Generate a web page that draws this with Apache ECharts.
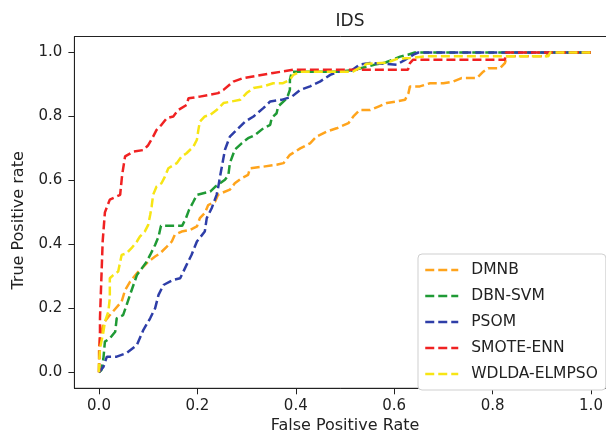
<!DOCTYPE html>
<html>
<head>
<meta charset="utf-8">
<script src="https://cdn.jsdelivr.net/npm/echarts@6/dist/echarts.min.js"></script>
<style>
html,body{margin:0;padding:0;background:#fff;}
#chart{width:606px;height:438px;}
</style>
</head>
<body>
<div id="chart"></div>
<script>
// ---- data ----
const titleText = "IDS";
const xName = "False Positive Rate";
const yName = "True Positive rate";
const tickValues = [0, 0.2, 0.4, 0.6, 0.8, 1.0];
const seriesNames = ["DMNB", "DBN-SVM", "PSOM", "SMOTE-ENN", "WDLDA-ELMPSO"];

const dmnbFpr = [0,0,0,0.002,0.009,0.022,0.046,0.053,0.063,0.077,0.087,0.1,0.114,0.124,0.138,0.148,0.154,0.168,0.185,0.199,0.205,0.215,0.222,0.236,0.242,0.25,0.266,0.276,0.29,0.303,0.307,0.334,0.361,0.375,0.388,0.409,0.429,0.442,0.463,0.483,0.507,0.517,0.53,0.551,0.568,0.585,0.605,0.622,0.629,0.632,0.652,0.673,0.70,0.72,0.737,0.768,0.781,0.791,0.815,0.825,0.829,0.909,0.913,1.0];
const dmnbTpr = [0,0.04,0.075,0.106,0.153,0.179,0.221,0.257,0.283,0.31,0.325,0.346,0.362,0.372,0.393,0.409,0.43,0.44,0.445,0.456,0.482,0.498,0.523,0.534,0.555,0.561,0.571,0.591,0.607,0.617,0.638,0.643,0.649,0.654,0.68,0.70,0.716,0.737,0.753,0.763,0.779,0.80,0.82,0.82,0.831,0.842,0.847,0.852,0.873,0.894,0.894,0.904,0.904,0.909,0.92,0.92,0.94,0.951,0.951,0.967,0.988,0.988,1.0,1.0];

const dbnFpr = [0,0.005,0.009,0.012,0.022,0.033,0.036,0.049,0.056,0.063,0.07,0.077,0.087,0.097,0.104,0.114,0.121,0.126,0.169,0.177,0.183,0.192,0.199,0.212,0.226,0.236,0.256,0.263,0.266,0.276,0.29,0.303,0.317,0.334,0.348,0.351,0.361,0.364,0.382,0.388,0.388,0.392,0.49,0.52,0.561,0.581,0.612,0.628,0.642,1.0];
const dbnTpr = [0,0.007,0.044,0.096,0.106,0.127,0.169,0.179,0.21,0.242,0.273,0.304,0.325,0.346,0.367,0.398,0.424,0.458,0.458,0.483,0.508,0.534,0.555,0.56,0.565,0.58,0.602,0.617,0.654,0.696,0.716,0.732,0.742,0.763,0.774,0.795,0.81,0.831,0.857,0.883,0.915,0.94,0.94,0.946,0.962,0.968,0.987,0.993,1.0,1.0];

const psomFpr = [0,0.009,0.016,0.036,0.056,0.077,0.09,0.104,0.114,0.121,0.131,0.151,0.165,0.178,0.188,0.199,0.215,0.219,0.229,0.239,0.242,0.246,0.256,0.266,0.28,0.297,0.314,0.334,0.348,0.371,0.392,0.409,0.429,0.449,0.47,0.486,0.51,0.53,0.551,0.605,0.622,0.639,0.649,1.0];
const psomTpr = [0,0.017,0.049,0.049,0.06,0.085,0.132,0.169,0.2,0.242,0.273,0.289,0.294,0.336,0.367,0.409,0.44,0.482,0.513,0.555,0.576,0.612,0.696,0.737,0.758,0.784,0.80,0.826,0.847,0.852,0.862,0.883,0.894,0.909,0.93,0.94,0.94,0.962,0.967,0.962,0.977,0.993,1.0,1.0];

const smoteFpr = [0,0.002,0.002,0.0075,0.012,0.022,0.043,0.047,0.053,0.07,0.09,0.10,0.11,0.117,0.127,0.138,0.151,0.161,0.178,0.182,0.205,0.226,0.242,0.253,0.273,0.293,0.354,0.395,0.628,0.632,0.638,0.825,0.827,1.0];
const smoteTpr = [0,0.13,0.17,0.41,0.50,0.54,0.555,0.617,0.675,0.69,0.695,0.71,0.737,0.758,0.774,0.795,0.80,0.82,0.836,0.857,0.862,0.868,0.873,0.883,0.909,0.92,0.936,0.946,0.946,0.967,0.977,0.977,1.0,1.0];

const wdldaFpr = [0,0,0.002,0.009,0.012,0.019,0.022,0.022,0.029,0.039,0.046,0.056,0.066,0.077,0.083,0.093,0.10,0.104,0.107,0.11,0.117,0.127,0.134,0.141,0.158,0.168,0.178,0.192,0.199,0.202,0.205,0.215,0.226,0.239,0.253,0.27,0.287,0.30,0.314,0.334,0.354,0.374,0.388,0.395,0.409,0.516,0.545,0.585,0.606,0.632,0.663,0.913,0.917,1.0];
const wdldaTpr = [0,0.023,0.075,0.127,0.158,0.19,0.232,0.294,0.304,0.315,0.367,0.372,0.388,0.409,0.424,0.44,0.461,0.492,0.518,0.555,0.581,0.591,0.612,0.638,0.654,0.675,0.685,0.706,0.727,0.758,0.784,0.80,0.805,0.82,0.842,0.847,0.852,0.873,0.889,0.894,0.904,0.904,0.915,0.93,0.94,0.94,0.965,0.968,0.98,0.983,0.988,0.988,1.0,1.0];

const colors = ["#ffa41c", "#1f9a35", "#2e3ea8", "#f02222", "#f7e514"];

// ---- build ----
function zip(a, b) { return a.map((v, i) => [v, b[i]]); }
const allX = [dmnbFpr, dbnFpr, psomFpr, smoteFpr, wdldaFpr];
const allY = [dmnbTpr, dbnTpr, psomTpr, smoteTpr, wdldaTpr];

const FONT = "DejaVu Sans";
const chart = echarts.init(document.getElementById('chart'), null, {renderer: 'canvas'});
chart.setOption({
  animation: false,
  backgroundColor: '#fff',
  title: {
    text: titleText, left: 345, top: 8, textAlign: 'center',
    textStyle: {fontFamily: FONT, fontSize: 17, fontWeight: 'normal', color: '#222'}
  },
  grid: {
    left: 74.4, top: 36.5, width: 541.2, height: 351.8,
    show: true, borderColor: '#222', borderWidth: 1, backgroundColor: 'transparent',
    outerBoundsMode: 'none', containLabel: false
  },
  legend: {
    orient: 'vertical', left: 418, top: 254,
    padding: [8, 8, 8, 6], itemGap: 10, itemWidth: 33, itemHeight: 14,
    backgroundColor: '#fff', borderColor: '#cfcfcf', borderWidth: 1, borderRadius: 4,
    itemStyle: {opacity: 0},
    lineStyle: {width: 2.5},
    textStyle: {fontFamily: FONT, fontSize: 15.5, color: '#222', padding: [0, 0, 0, 8]},
    data: seriesNames
  },
  xAxis: {
    type: 'value', min: -0.05, max: 1.05,
    name: xName, nameLocation: 'middle', nameGap: 30,
    nameTextStyle: {fontFamily: FONT, fontSize: 16, color: '#222'},
    axisLine: {show: true, onZero: false, lineStyle: {color: '#222', width: 1}},
    axisTick: {show: true, length: 6, customValues: tickValues, lineStyle: {color: '#222'}},
    axisLabel: {show: true, customValues: tickValues, margin: 10, fontFamily: FONT, fontSize: 15, color: '#222',
      formatter: v => v.toFixed(1)},
    splitLine: {show: false}
  },
  yAxis: {
    type: 'value', min: -0.05, max: 1.05,
    name: yName, nameLocation: 'middle', nameGap: 48,
    nameTextStyle: {fontFamily: FONT, fontSize: 16, color: '#222', padding: [0, 16, 0, 0]},
    axisLine: {show: true, onZero: false, lineStyle: {color: '#222', width: 1}},
    axisTick: {show: true, length: 6, customValues: tickValues, lineStyle: {color: '#222'}},
    axisLabel: {show: true, customValues: tickValues, margin: 12, fontFamily: FONT, fontSize: 15, color: '#222',
      formatter: v => v.toFixed(1)},
    splitLine: {show: false}
  },
  series: seriesNames.map((name, i) => ({
    name: name, type: 'line', data: zip(allX[i], allY[i]),
    symbol: 'none', showSymbol: false,
    lineStyle: {color: colors[i], width: 2.5, type: [9, 4]},
    itemStyle: {color: colors[i]},
    z: 2 + i
  }))
});
</script>
</body>
</html>
